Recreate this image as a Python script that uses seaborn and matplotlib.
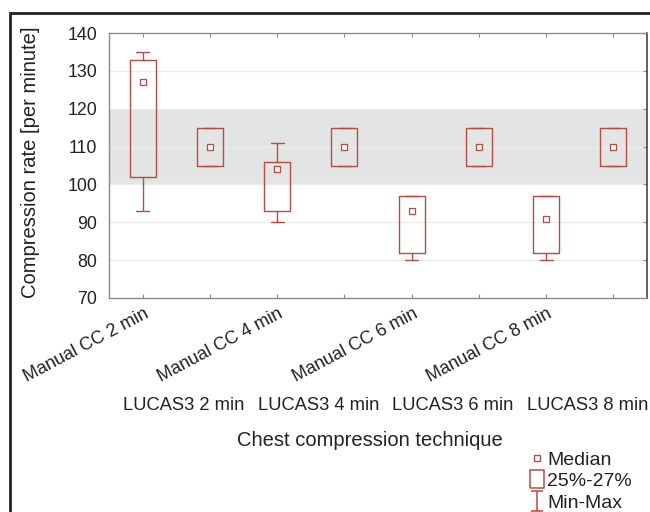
import numpy as np
import pandas as pd
import matplotlib
matplotlib.use("Agg")
import matplotlib.pyplot as plt
from matplotlib.lines import Line2D
from matplotlib.path import Path
from matplotlib.patches import Rectangle
import seaborn as sns

# ---- data (five-number summaries) ----
categories = ["Manual CC 2 min", "LUCAS3 2 min", "Manual CC 4 min", "LUCAS3 4 min",
              "Manual CC 6 min", "LUCAS3 6 min", "Manual CC 8 min", "LUCAS3 8 min"]
mins    = [93, 105, 90, 105, 80, 105, 80, 105]
q1s     = [102, 105, 93, 105, 82, 105, 82, 105]
medians = [127, 110, 104, 110, 93, 110, 91, 110]
q3s     = [133, 115, 106, 115, 97, 115, 97, 115]
maxs    = [135, 115, 111, 115, 97, 115, 97, 115]
yticks  = [70, 80, 90, 100, 110, 120, 130, 140]
target_band = (100, 120)
legend_labels = ["Median", "25%-27%", "Min-Max"]

RED = "#b84c42"
TXT = "#222222"

sns.set_theme(style="white")
plt.rcParams["font.family"] = ["Liberation Sans", "DejaVu Sans"]

# long table: 5 points per category -> quartiles fall exactly on the summary values
rows = []
for c, a, b, m, d, e in zip(categories, mins, q1s, medians, q3s, maxs):
    for v in (a, b, m, d, e):
        rows.append({"technique": c, "rate": v})
df = pd.DataFrame(rows)

W, H = 650, 512
fig = plt.figure(figsize=(W / 100, H / 100), dpi=100)
L, R, T, B = 109, 647, 33, 298
ax = fig.add_axes([L / W, 1 - B / H, (R - L) / W, (B - T) / H])

ax.axhspan(*target_band, color="#e3e4e4", zorder=0, lw=0)
for y in yticks[1:-1]:
    ax.axhline(y, color="#ececec", lw=1.0, zorder=0.5)

sns.boxplot(data=df, x="technique", y="rate", order=categories, fill=False,
            color=RED, width=0.39, whis=(0, 100), showfliers=False,
            linewidth=1.0, medianprops={"visible": False}, ax=ax)

positions = np.arange(len(categories))
sns.scatterplot(x=positions, y=medians, marker="s", s=14, facecolor="white",
                edgecolor=RED, linewidth=0.9, zorder=5, ax=ax)

ax.set_ylim(70, 140)
ax.set_xlim(-0.5, len(categories) - 0.5)
ax.set_yticks(yticks)
ax.set_xticks(positions)
ax.set_xlabel("")
ax.set_ylabel("")
ax.tick_params(axis="x", which="both", direction="in", length=3, width=0.8,
               color="#8a8a8a", top=True, bottom=True, labelbottom=False)
ax.tick_params(axis="y", which="both", direction="in", length=3, width=0.8,
               color="#8a8a8a", left=False, right=True, labelsize=12.8,
               labelcolor=TXT, pad=8.5)
for s in ["left", "top", "bottom"]:
    ax.spines[s].set_color("#8a8a8a")
    ax.spines[s].set_linewidth(1.0)
ax.spines["right"].set_color("#444444")
ax.spines["right"].set_linewidth(1.2)

# staggered category labels
for i, lab in enumerate(categories):
    if i % 2 == 0:
        ax.annotate(lab, xy=(i, 0), xycoords=("data", "axes fraction"),
                    xytext=(1, -7), textcoords="offset pixels", rotation=28,
                    ha="right", va="top", rotation_mode="anchor",
                    fontsize=13, color=TXT)
    else:
        ax.annotate(lab, xy=(i, 0), xycoords=("data", "axes fraction"),
                    xytext=(-26, -107), textcoords="offset pixels",
                    ha="center", va="center", fontsize=13.2, color=TXT)

fig.text(31 / W, 1 - 162 / H, "Compression rate [per minute]", rotation=90,
         ha="center", va="center", fontsize=14.5, color=TXT)
fig.text(370 / W, 1 - 440 / H, "Chest compression technique",
         ha="center", va="center", fontsize=14.5, color=TXT)

# legend
box_marker = [(-0.76, -1), (0.76, -1), (0.76, 1), (-0.76, 1), (-0.76, -1)]
ibeam = Path([(-0.55, 1), (0.55, 1), (0, 1), (0, -1), (-0.55, -1), (0.55, -1)],
             [Path.MOVETO, Path.LINETO, Path.MOVETO, Path.LINETO, Path.MOVETO, Path.LINETO])
handles = [
    Line2D([], [], ls="none", marker="s", markersize=5, mfc="white", mec=RED, mew=1.0),
    Line2D([], [], ls="none", marker=box_marker, markersize=12.5, mfc="none", mec=RED, mew=1.1),
    Line2D([], [], ls="none", marker=ibeam, markersize=15, mfc="none", mec=RED, mew=1.1),
]
fig.legend(handles, legend_labels, loc="upper left",
           bbox_to_anchor=(530 / W, 1 - 451 / H), frameon=False, fontsize=14,
           handlelength=0.7, handletextpad=0.17, labelspacing=0.2,
           borderpad=0, borderaxespad=0, labelcolor=TXT)

# outer frame (cut at right and bottom)
fig.patches.append(Rectangle((10 / W, -0.2), 1.5, 1 - 13 / H + 0.2,
                             transform=fig.transFigure, fill=False,
                             ec="#222222", lw=2, zorder=10))

fig.savefig("out.png", dpi=100)
